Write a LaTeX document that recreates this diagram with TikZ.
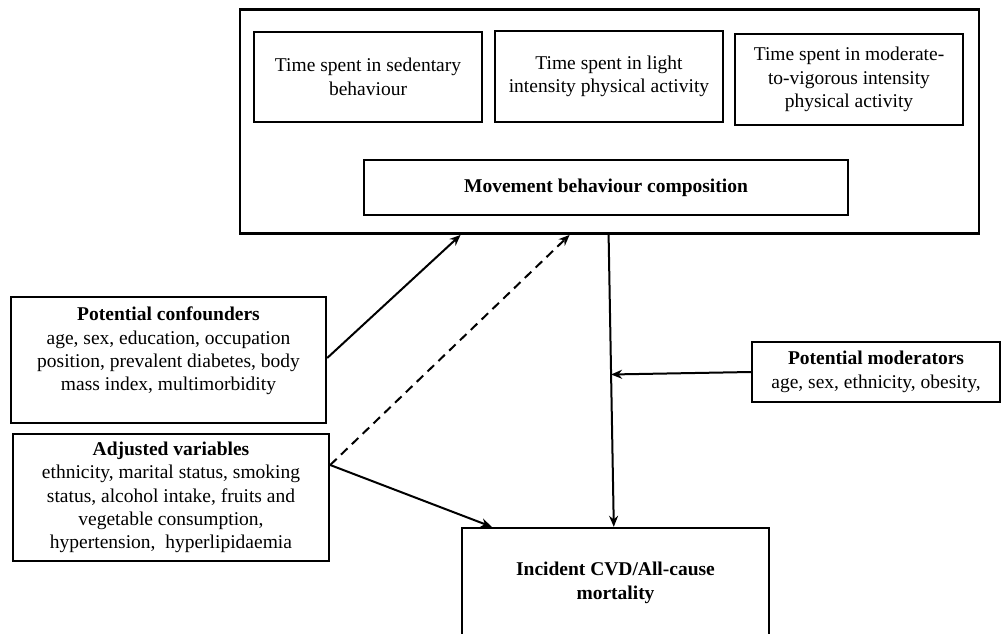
\documentclass[tikz,border=0pt]{standalone}
\usepackage{fontspec}
\setmainfont{Liberation Serif}
\usetikzlibrary{arrows.meta,calc}
\begin{document}
\begin{tikzpicture}[x=1pt,y=-1pt,
  box/.style={draw,line width=2.4pt,inner sep=0pt,align=center,font=\fontsize{19.5}{23.4}\selectfont},
  txt/.style={inner sep=0pt,align=center,font=\fontsize{19.5}{23.4}\selectfont},
  conn/.style={line width=2pt,-{Stealth[length=11pt,width=9pt]}},
  plain/.style={line width=2pt}]
\useasboundingbox[fill=white] (0,0) rectangle (1002,633);
\clip (0,0) rectangle (1002,633);
% outer box
\node[box,line width=2.8pt,minimum width=739pt,minimum height=224pt] (outer) at (609.5,121.5) {};
\node[box,minimum width=228pt,minimum height=90pt] (sed) at (368,77) {Time spent in sedentary\\behaviour};
\node[box,minimum width=228pt,minimum height=91pt] (lpa) at (609,76.5) {Time spent in light\\intensity physical activity};
\node[box,minimum width=228pt,minimum height=91pt] (mvpa) at (849,79.5) {Time spent in moderate-\\to-vigorous intensity\\physical activity};
\node[box,minimum width=484pt,minimum height=55pt] (comp) at (606,187.5) {\textbf{Movement behaviour composition}};
% confounders
\node[box,minimum width=315pt,minimum height=126pt] (conf) at (168.5,360) {};
\node[txt] (conft) at ([yshift=9pt]conf.center) {\textbf{Potential confounders}\\age, sex, education, occupation\\position, prevalent diabetes, body\\mass index, multimorbidity};
% adjusted
\node[box,minimum width=316pt,minimum height=127pt] (adj) at (171,497.5) {\textbf{Adjusted variables}\\ethnicity, marital status, smoking\\status, alcohol intake, fruits and\\vegetable consumption,\\hypertension,\ \ hyperlipidaemia};
% outcome
\node[box,minimum width=307pt,minimum height=110pt] (out) at (615.5,583) {\textbf{Incident CVD/All-cause}\\\textbf{mortality}};
% moderators
\node[box,minimum width=248pt,minimum height=60pt] (mod) at (876,372) {\textbf{Potential moderators}\\age, sex, ethnicity, obesity,};
% connectors
\draw[conn] ([yshift=2pt]conf.east) -- ([xshift=222pt]outer.south west);
\draw[conn,dash pattern=on 9pt off 6pt] ([yshift=32.5pt]adj.east) -- ([xshift=331pt]outer.south west);
\draw[conn] ([yshift=32.5pt]adj.east) -- ([xshift=31pt]out.north west);
\coordinate (vs) at ([xshift=370pt]outer.south west);
\coordinate (ve) at ([xshift=153pt]out.north west);
\draw[conn] (vs) -- (ve);
\draw[conn] (mod.west) -- ($(vs)!(mod.west)!(ve)$);
\end{tikzpicture}
\end{document}
